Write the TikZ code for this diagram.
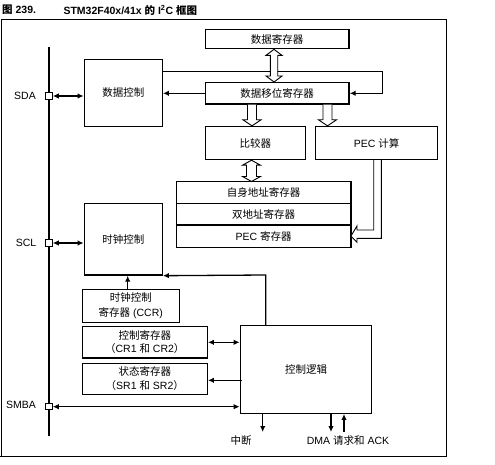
\documentclass[tikz,border=0pt]{standalone}
\usepackage{fontspec}
\setmainfont{Liberation Sans}
\newfontfamily\cjk{Noto Sans CJK SC}
\usetikzlibrary{arrows.meta,calc}
\newcommand{\zh}[1]{{\cjk #1}}
\newcommand{\hollowdbl}[5]{%
 \path[hollow] let \p1=(#1), \p2=(#2) in (\x1,\y1) -- (\x1+#4,\y1-#5) -- (\x1+#3,\y1-#5) -- (\x2+#3,\y2+#5) -- (\x2+#4,\y2+#5) -- (\x2,\y2) -- (\x2-#4,\y2+#5) -- (\x2-#3,\y2+#5) -- (\x1-#3,\y1-#5) -- (\x1-#4,\y1-#5) -- cycle;}
\newcommand{\hollowdown}[5]{%
 \path[hollow] let \p1=(#1), \p2=(#2) in (\x1-#3,\y1) -- (\x2-#3,\y2+#5) -- (\x2-#4,\y2+#5) -- (\x2,\y2) -- (\x2+#4,\y2+#5) -- (\x2+#3,\y2+#5) -- (\x1+#3,\y1);}
\begin{document}
\begin{tikzpicture}[x=1pt,y=-1pt,
  font=\fontsize{10.5}{13.5}\selectfont,
  box/.style={draw, line width=1.3pt, inner sep=0pt, align=center},
  tbox/.style={draw, line width=1pt, inner sep=0pt, align=center},
  plain/.style={inner sep=0pt, align=center},
  conn/.style={line width=1.3pt, -{Latex[length=6pt,width=5.5pt]}},
  dconn/.style={line width=1.3pt, {Latex[length=6pt,width=5.5pt]}-{Latex[length=6pt,width=5.5pt]}},
  hollow/.style={draw, fill=white, line width=0.9pt, line join=miter},
  pinbox/.style={draw, fill=white, line width=1pt, minimum size=6.5pt, inner sep=0pt}]
\useasboundingbox (0,0) rectangle (495,465);
% title and frame
\node[plain, anchor=west, font=\fontsize{10.5}{12}\bfseries] (t1) at (2,10) {\zh{图} 239.};
\node[plain, anchor=west, font=\fontsize{10.5}{12}\bfseries] (t2) at (63.3,10) {STM32F40x/41x \zh{的} I\textsuperscript{2}C \zh{框图}};
\draw[line width=0.9pt] (1.5,19) -- (446.5,19) -- (446.5,456.7);
\draw[line width=0.9pt] (1.5,19) -- (1.5,456.7);
\draw[line width=1.4pt] (0,456.7) -- (447,456.7);
% bus
\draw[line width=2pt] (49,47) -- (49,436);
% boxes
\node[box, minimum width=143.7pt, minimum height=19.4pt] (dr) at (277.2,39) {\zh{数据寄存器}};
\node[box, minimum width=143.7pt, minimum height=21.3pt] (sr) at (277.2,93.3) {\zh{数据移位寄存器}};
\node[box, minimum width=78pt, minimum height=66.6pt] (dc) at (123.3,93) {\zh{数据控制}};
\node[tbox, minimum width=100pt, minimum height=33.4pt] (cmp) at (255.3,143) {\zh{比较器}};
\node[tbox, minimum width=121.6pt, minimum height=33.4pt] (pec) at (376.5,143) {PEC \zh{计算}};
\node[plain, minimum width=174pt, minimum height=21.6pt] (oar) at (263.7,192.5) {\zh{自身地址寄存器}};
\node[plain, minimum width=174pt, minimum height=21.7pt] (dar) at (263.7,214.15) {\zh{双地址寄存器}};
\node[plain, minimum width=174pt, minimum height=22.3pt] (pecr) at (263.7,236.15) {PEC \zh{寄存器}};
\draw[line width=1.3pt] (oar.north west) rectangle (pecr.south east);
\draw[line width=0.9pt] (oar.south west) -- (oar.south east);
\draw[line width=1.5pt] (pecr.north west) -- (pecr.north east);
\node[box, minimum width=78pt, minimum height=71.7pt] (cc) at (123.3,239.2) {\zh{时钟控制}};
\node[tbox, minimum width=97pt, minimum height=33pt, font=\fontsize{10.5}{15}\selectfont] (ccr) at (130.8,305.8) {\zh{时钟控制}\\\zh{寄存器} (CCR)};
\node[box, minimum width=125pt, minimum height=31.3pt] (cr) at (144.8,342.3) {\zh{控制寄存器}\\\zh{（}CR1 \zh{和} CR2\zh{）}};
\node[box, minimum width=125pt, minimum height=31pt] (sreg) at (144.8,378.8) {\zh{状态寄存器}\\\zh{（}SR1 \zh{和} SR2\zh{）}};
\node[box, minimum width=131.4pt, minimum height=87.6pt] (cl) at (306,369.5) {\zh{控制逻辑}};
% pins and labels
\node[pinbox] (sda) at (49,96) {};
\node[pinbox] (scl) at (49,243) {};
\node[pinbox] (smba) at (49,406.7) {};
\node[plain] (sdal) at (25,96) {SDA};
\node[plain] (scll) at (26,243) {SCL};
\node[plain] (smbal) at (21,405) {SMBA};
\node[plain] (intr) at (241,440.5) {\zh{中断}};
\node[plain] (dma) at (348,441) {DMA \zh{请求和} ACK};
% helper coordinates
\coordinate (lp1) at (382.3,71.3);
\coordinate (ccbend) at (265.7,275);
\coordinate (ccrx) at (127.7,0);
\coordinate (intend) at (262.7,432);
\coordinate (dmaout) at (331,432);
\coordinate (dmain) at (344,432);
\coordinate (ha) at (274,0);
\coordinate (hb) at (252,0);
\coordinate (hc) at (327.5,0);
\coordinate (hd) at (251.5,0);
\coordinate (pa) at (373.7,0);
\coordinate (pb) at (381.3,0);
% connectors
\draw[dconn] (sda.east) -- (sda.east -| dc.west);
\draw[dconn] (scl.east) -- (scl.east -| cc.west);
\draw[dconn] (smba.east) -- (smba.east -| cl.west);
\draw[conn] (sr.west) -- (sr.west -| dc.east);
\draw[conn] (dc.east |- lp1) -- (lp1) -- (lp1 |- sr.east) -- (sr.east);
\draw[conn] (cl.north -| ccbend) -- (ccbend) -- (cc.south east);
\draw[conn] (ccr.north -| ccrx) -- (cc.south -| ccrx);
\draw[dconn] (cr.east) -- (cr.east -| cl.west);
\draw[conn] ([xshift=2pt]cl.west |- 0,380.3) -- (sreg.east |- 0,380.3);
\draw[conn] (cl.south -| intend) -- (intend);
\draw[conn] (cl.south -| dmaout) -- (dmaout);
\draw[conn] (dmain) -- (cl.south -| dmain);
% hollow arrows
\hollowdbl{dr.south -| ha}{sr.north -| ha}{3.7pt}{8pt}{6pt}
\hollowdown{sr.south -| hb}{cmp.north -| hb}{4.5pt}{9pt}{6pt}
\hollowdown{sr.south -| hc}{pec.north -| hc}{4.5pt}{9pt}{6pt}
\hollowdbl{cmp.south -| hd}{oar.north -| hd}{5pt}{9pt}{5pt}
\draw[hollow] (pec.south -| pa) -- (373.7,230) -- (357,230) -- (357,226) -- (pecr.east) -- (357,242.3) -- (357,238.3) -- (381.3,238.3) -- (pec.south -| pb);
\end{tikzpicture}
\end{document}
